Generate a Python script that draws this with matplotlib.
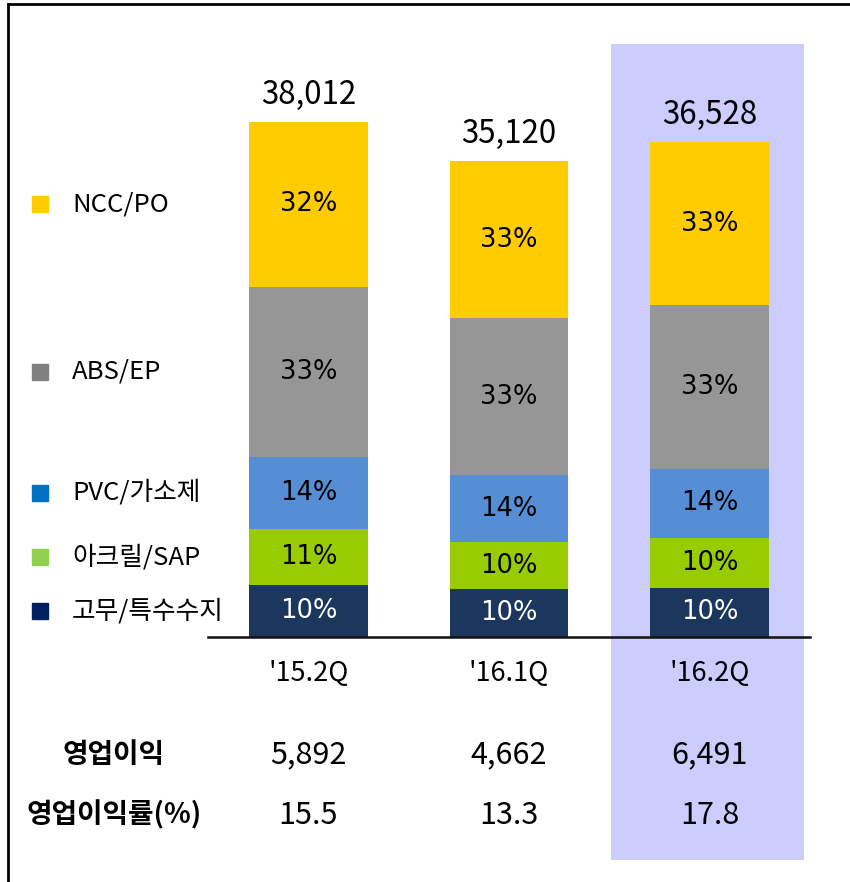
import matplotlib.pyplot as plt
import matplotlib.transforms as mtransforms
from matplotlib.patches import Rectangle
from matplotlib.lines import Line2D

plt.rcParams['font.family'] = ['Noto Sans CJK KR', 'DejaVu Sans']

# 데이터
quarters = ["'15.2Q", "'16.1Q", "'16.2Q"]
totals = [38012, 35120, 36528]
segments = ['고무/특수수지', '아크릴/SAP', 'PVC/가소제', 'ABS/EP', 'NCC/PO']
shares = {
    '고무/특수수지': [10, 10, 10],
    '아크릴/SAP': [11, 10, 10],
    'PVC/가소제': [14, 14, 14],
    'ABS/EP': [33, 33, 33],
    'NCC/PO': [32, 33, 33],
}
op_profit = ['5,892', '4,662', '6,491']
op_margin = ['15.5', '13.3', '17.8']

bar_colors = ['#1B375E', '#99CC00', '#558ED5', '#969696', '#FFCC00']
legend_colors = ['#002060', '#92D050', '#0070C0', '#808080', '#FFCC00']
text_colors = ['white', 'black', 'black', 'black', 'black']

fig = plt.figure(figsize=(8.5, 8.82), dpi=100)
ax = fig.add_axes([208 / 850, (882 - 637) / 882, 602 / 850, 542 / 882])
ax.patch.set_visible(False)

x = list(range(len(quarters)))
bottoms = [0.0] * len(quarters)
centers = {}
for seg, col, tcol in zip(segments, bar_colors, text_colors):
    h = [s / 100 * t for s, t in zip(shares[seg], totals)]
    ax.bar(x, h, bottom=bottoms, width=0.59, color=col, zorder=2)
    centers[seg] = [b + v / 2 for b, v in zip(bottoms, h)]
    for i in x:
        ax.text(i, centers[seg][i], f'{shares[seg][i]}%', ha='center', va='center',
                fontsize=18.5, color=tcol, family=['DejaVu Sans'], zorder=3)
    bottoms = [b + v for b, v in zip(bottoms, h)]

for i in x:
    ax.annotate(f'{totals[i]:,}', (i, totals[i]), xytext=(0, 8), textcoords='offset points',
                ha='center', va='bottom', fontsize=22.5, fontweight='medium')

ax.set_xlim(-0.5, 2.5)
ax.set_ylim(0, 40000)
for s in ['top', 'left', 'right']:
    ax.spines[s].set_visible(False)
ax.spines['bottom'].set_linewidth(1.8)
ax.spines['bottom'].set_color('#111111')
ax.set_xticks([])
ax.set_yticks([])

# 강조 박스 ('16.2Q)
bt = mtransforms.blended_transform_factory(ax.transData, fig.transFigure)
fig.patches.append(Rectangle((1.51, 22 / 882), 0.96, 816 / 882, transform=bt,
                             facecolor='#CCCCFF', edgecolor='none', zorder=-1))

# 분기 라벨 / 표
for i in x:
    ax.text(i, (882 - 673) / 882, quarters[i], transform=bt, ha='center', va='center',
            fontsize=19.5, fontweight='medium')
    ax.text(i, (882 - 755) / 882, op_profit[i], transform=bt, ha='center', va='center', fontsize=22)
    ax.text(i, (882 - 815) / 882, op_margin[i], transform=bt, ha='center', va='center', fontsize=22)

fig.text(114 / 850, (882 - 755) / 882, '영업이익', ha='center', va='center', fontsize=20, fontweight='bold')
fig.text(114 / 850, (882 - 815) / 882, '영업이익률(%)', ha='center', va='center', fontsize=20, fontweight='bold')

# 범례 (첫 막대 구간 높이에 맞춤)
lt = mtransforms.blended_transform_factory(fig.transFigure, ax.transData)
for seg, col in zip(segments, legend_colors):
    y = centers[seg][0]
    fig.add_artist(Line2D([40 / 850], [y], transform=lt, marker='s', markersize=11,
                          color=col, linestyle='none'))
    fig.text(72 / 850, y, seg, transform=lt, ha='left', va='center', fontsize=18.5,
             fontweight='medium')

# 테두리
fig.add_artist(Line2D([8 / 850, 1], [1 - 4 / 882, 1 - 4 / 882], transform=fig.transFigure, color='black', lw=2))
fig.add_artist(Line2D([8 / 850, 8 / 850], [0, 1 - 4 / 882], transform=fig.transFigure, color='black', lw=2))

fig.savefig('out.png', dpi=100)
